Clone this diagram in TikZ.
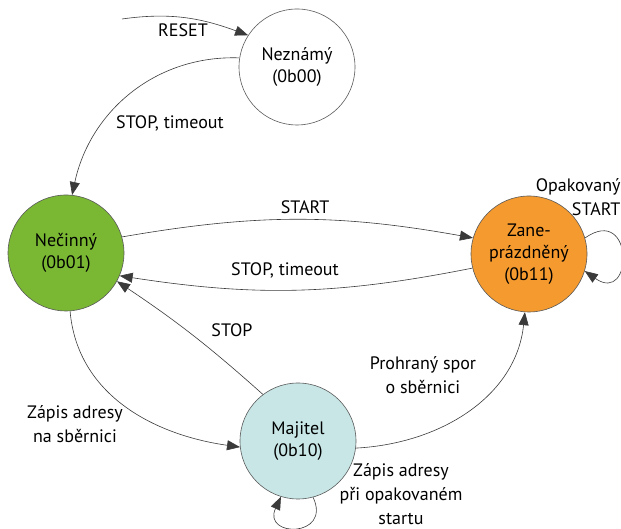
\documentclass[tikz,border=0pt]{standalone}
\usepackage{fontspec}
\setmainfont{PT Sans}
\usetikzlibrary{arrows.meta}
\definecolor{stgreen}{HTML}{7AB834}
\definecolor{storange}{HTML}{F59A2E}
\definecolor{stblue}{HTML}{C8E6E6}
\definecolor{lncol}{HTML}{3A3A3A}
\begin{document}
\begin{tikzpicture}[x=1pt,y=1pt,
  state/.style={circle,draw=black!65,line width=0.6pt,minimum size=116pt,inner sep=0pt,align=center,font=\fontsize{18}{22}\selectfont},
  lbl/.style={align=center,font=\fontsize{18}{24}\selectfont},
  arr/.style={draw=lncol,line width=0.6pt,-{Triangle[length=13pt,width=10pt]}}]
\useasboundingbox (0,0) rectangle (621,529);
\node[state] (nez) at (297,462) {Neznámý\\(0b00)};
\node[state,fill=stgreen] (nec) at (66,276) {Nečinný\\(0b01)};
\node[state,fill=storange] (zan) at (529,275) {Zane-\\prázdněný\\(0b11)};
\node[state,fill=stblue] (maj) at (298,88) {Majitel\\(0b10)};
\coordinate (r0) at (122,510);
% edges
\draw[arr] (r0) to[out=8,in=160] (nez.147);
\draw[arr] (nez.171) to[out=178,in=78] (nec.84);
\draw[arr] (nec.16) to[bend left=10] (zan.164);
\draw[arr] (zan.194) to[bend left=10] (nec.337);
\draw[arr] (maj.127) to[bend right=4] (nec.331);
\draw[arr] (nec.274) to[out=-85,in=172] (maj.186);
\draw[arr] (maj.-7) to[out=3,in=-96] (zan.266);
\draw[arr] (maj.-75) .. controls +(-65:45) and +(-115:45) .. (maj.-107);
\draw[arr] (zan.16) .. controls +(35:60) and +(-35:60) .. (zan.-17);
% labels
\node[lbl] (lreset) at (183,499) {RESET};
\node[lbl] (lst1) at (170,406) {STOP, timeout};
\node[lbl] (lstart) at (305,322) {START};
\node[lbl] (lst2) at (285,259) {STOP, timeout};
\node[lbl] (lstop) at (232,199) {STOP};
\node[lbl] (lzap) at (75,105) {Zápis adresy\\na sběrnici};
\node[lbl] (lpro) at (423,154) {Prohraný spor\\o sběrnici};
\node[lbl] (lzap2) at (401,35) {Zápis adresy\\při opakovaném\\startu};
\node[lbl,align=right,anchor=east] (lopa) at (624,332) {Opakovaný\\START};
\end{tikzpicture}
\end{document}
